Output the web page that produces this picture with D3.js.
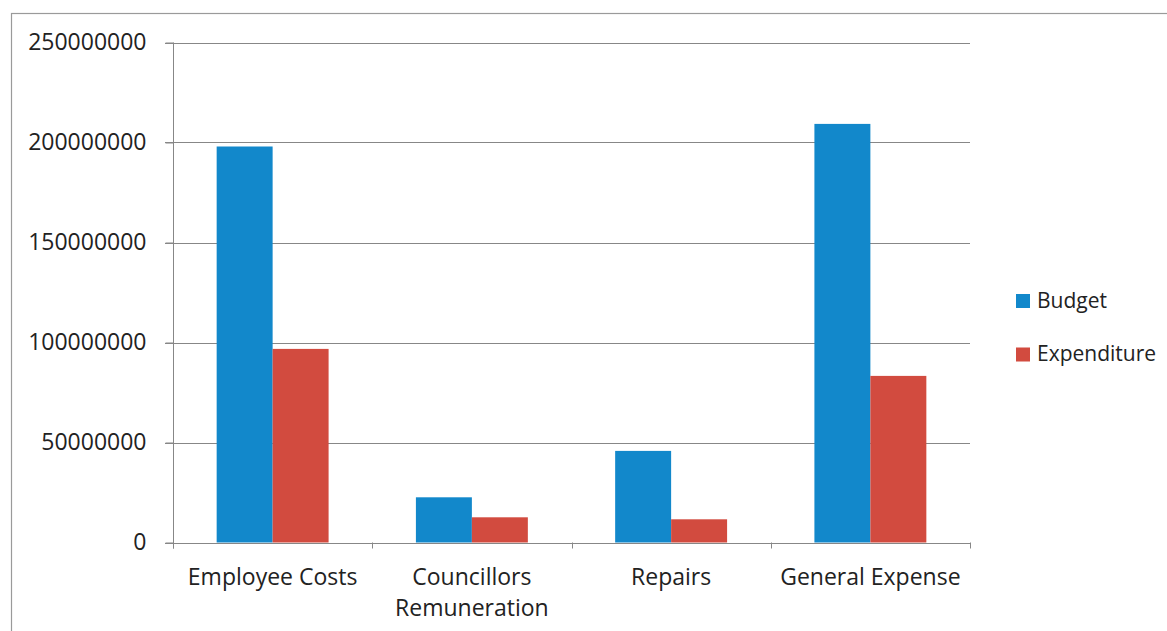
<!DOCTYPE html>
<html>
<head>
<meta charset="utf-8">
<script src="https://cdn.jsdelivr.net/npm/d3@7"></script>
<style>
  body { margin: 0; background: #fff; }
  svg { display: block; font-family: "Open Sans", sans-serif; }
</style>
</head>
<body>
<svg id="chart"></svg>
<script>
let categories = ["Employee Costs", "Councillors Remuneration", "Repairs", "General Expense"];
let seriesNames = ["Budget", "Expenditure"];
let budget = [198000000, 22600000, 45800000, 209300000];
let expenditure = [96800000, 12600000, 11600000, 83300000];
let yTicks = [0, 50000000, 100000000, 150000000, 200000000, 250000000];

let colors = { Budget: "#1288cb", Expenditure: "#d24b3f" };

let w = 1167;
let h = 631;
let margin = { top: 42.5, right: 197, bottom: 88.5, left: 173 };

let svg = d3.select('#chart')
    .attr('width', w)
    .attr('height', h);

let tableData = categories.map((c, i) => {
    return { name: c, Budget: budget[i], Expenditure: expenditure[i] };
});

// outer frame
svg.append('rect')
    .attr('x', 11.5)
    .attr('y', 13.5)
    .attr('width', w)
    .attr('height', h)
    .attr('fill', 'none')
    .attr('stroke', '#9a9a9a')
    .attr('stroke-width', 1.2);

let xScale = d3.scaleBand()
    .domain(categories)
    .range([margin.left, w - margin.right])
    .padding(0);

let xInner = d3.scaleBand()
    .domain(seriesNames)
    .range([0, xScale.bandwidth()])
    .paddingInner(0)
    .paddingOuter(0.78);

let yScale = d3.scaleLinear()
    .domain([0, 250000000])
    .range([h - margin.bottom, margin.top]);

// gridlines
svg.append('g')
    .attr('class', 'grid')
    .selectAll('line')
    .data(yTicks)
    .enter()
    .append('line')
    .attr('x1', margin.left - 8)
    .attr('x2', w - margin.right)
    .attr('y1', d => Math.round(yScale(d)) + 0.5)
    .attr('y2', d => Math.round(yScale(d)) + 0.5)
    .attr('stroke', '#878787')
    .attr('stroke-width', 1.2);

// y axis
let yAxis = d3.axisLeft(yScale)
    .tickValues(yTicks)
    .tickFormat(d3.format('d'))
    .tickSize(8)
    .tickPadding(19);

let yG = svg.append('g')
    .attr('transform', 'translate(' + (margin.left + 0.5) + ', 0)')
    .call(yAxis);
yG.select('.domain')
    .attr('stroke', '#878787')
    .attr('d', 'M0,' + yScale(250000000) + 'V' + (yScale(0) + 6));
yG.selectAll('.tick line').attr('stroke', '#878787');
yG.selectAll('.tick text')
    .attr('font-size', 23)
    .attr('font-family', '"Open Sans", sans-serif')
    .attr('fill', '#222');

// category boundary ticks
let bounds = categories.map(c => xScale(c)).concat([xScale.range()[1]]);
svg.append('g')
    .selectAll('line')
    .data(bounds)
    .enter()
    .append('line')
    .attr('x1', d => Math.round(d) + 0.5)
    .attr('x2', d => Math.round(d) + 0.5)
    .attr('y1', yScale(0))
    .attr('y2', yScale(0) + 6)
    .attr('stroke', '#878787');

// bars
let groups = svg.append('g')
    .selectAll('g')
    .data(tableData)
    .enter()
    .append('g')
    .attr('transform', d => 'translate(' + xScale(d.name) + ',0)');

groups.selectAll('rect')
    .data(d => seriesNames.map(s => ({ key: s, value: d[s] })))
    .enter()
    .append('rect')
    .attr('x', d => xInner(d.key))
    .attr('width', xInner.bandwidth())
    .attr('y', d => yScale(d.value))
    .attr('height', d => yScale(0) - yScale(d.value))
    .attr('fill', d => colors[d.key]);

// x labels (wrapped like the original)
let xLabelLines = {
    "Employee Costs": ["Employee Costs"],
    "Councillors Remuneration": ["Councillors", "Remuneration"],
    "Repairs": ["Repairs"],
    "General Expense": ["General Expense"]
};

svg.append('g')
    .selectAll('text')
    .data(categories)
    .enter()
    .append('text')
    .attr('x', d => xScale(d) + xScale.bandwidth() / 2)
    .attr('y', 585)
    .attr('text-anchor', 'middle')
    .attr('font-size', 23)
    .attr('fill', '#222')
    .each(function(d) {
        let t = d3.select(this);
        xLabelLines[d].forEach((line, i) => {
            t.append('tspan')
                .attr('x', xScale(d) + xScale.bandwidth() / 2)
                .attr('dy', i === 0 ? 0 : 31)
                .text(line);
        });
    });

// legend
let legend = svg.append('g')
    .selectAll('g')
    .data(seriesNames)
    .enter()
    .append('g')
    .attr('transform', (d, i) => 'translate(1016,' + (294 + i * 53.5) + ')');

legend.append('rect')
    .attr('width', 14)
    .attr('height', 14)
    .attr('fill', d => colors[d]);

legend.append('text')
    .attr('x', 21)
    .attr('y', 13.5)
    .attr('font-size', 21)
    .attr('fill', '#222')
    .text(d => d);
</script>
</body>
</html>
